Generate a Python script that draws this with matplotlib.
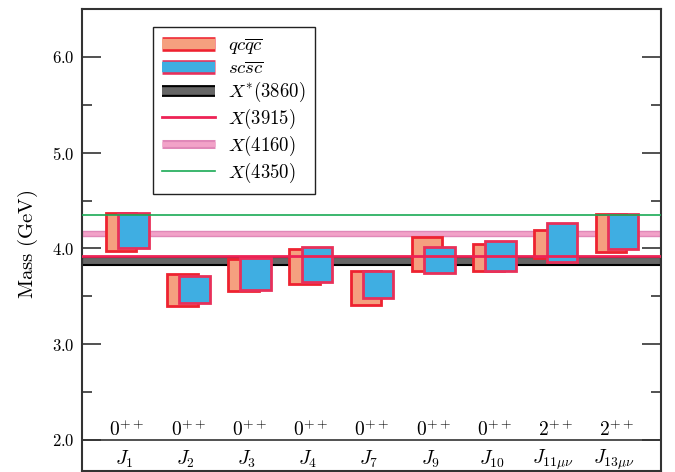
import matplotlib
matplotlib.use("Agg")
import matplotlib.pyplot as plt
import matplotlib.patheffects as pe
from matplotlib.lines import Line2D

plt.rcParams['mathtext.fontset'] = 'cm'
plt.rcParams['font.family'] = 'serif'
plt.rcParams['font.serif'] = ['cmr10', 'DejaVu Serif']
plt.rcParams['axes.formatter.use_mathtext'] = True

# currents, quantum numbers
currents = [r'$J_1$', r'$J_2$', r'$J_3$', r'$J_4$', r'$J_7$', r'$J_9$',
            r'$J_{10}$', r'$J_{11\mu\nu}$', r'$J_{13\mu\nu}$']
jpc = [r'$0^{++}$'] * 7 + [r'$2^{++}$'] * 2

# mass windows (GeV): lower / upper edges
qc_low = [3.97, 3.40, 3.55, 3.63, 3.41, 3.76, 3.76, 3.90, 3.96]
qc_high = [4.37, 3.73, 3.89, 3.99, 3.76, 4.12, 4.05, 4.19, 4.36]
sc_low = [4.00, 3.43, 3.57, 3.65, 3.48, 3.74, 3.76, 3.86, 3.99]
sc_high = [4.37, 3.71, 3.90, 4.01, 3.76, 4.01, 4.08, 4.26, 4.36]

# experimental states
x3860_band = (3.827, 3.910)
x3915 = 3.918
x4160_band = (4.127, 4.185)
x4350 = 4.350

yticks = [2.0, 3.0, 4.0, 5.0, 6.0]
yminor = [2.5, 3.5, 4.5, 5.5]

c_orange = '#F5A07F'
c_orange_edge = '#EE2230'
c_blue = '#3FAEE2'
c_blue_edge = '#E8305A'
c_gray = '#666666'
c_red = '#EE2255'
c_pink = '#F2A2C8'
c_pink_edge = '#E088B8'
c_green = '#1AAA55'

fig = plt.figure(figsize=(6.75, 4.72), dpi=100)
ax = fig.add_axes([0.1215, 0.003, 0.8575, 0.978])

pos = list(range(1, len(currents) + 1))

ax.axhspan(*x3860_band, facecolor=c_gray, edgecolor='black', lw=1.5, zorder=1)
ax.axhspan(*x4160_band, facecolor=c_pink, edgecolor=c_pink_edge, lw=1, zorder=1)

ax.bar(pos, [h - l for l, h in zip(qc_low, qc_high)], bottom=qc_low, width=0.5,
       color=c_orange, edgecolor=c_orange_edge, lw=2, zorder=2)
ax.bar([p + 0.2 for p in pos], [h - l for l, h in zip(sc_low, sc_high)],
       bottom=sc_low, width=0.5, color=c_blue, edgecolor=c_blue_edge, lw=2, zorder=3)

ax.axhline(x3915, color=c_red, lw=2, zorder=4)
ax.axhline(x4350, color=c_green, lw=1.2, zorder=4)
ax.axhline(2.0, color='#333333', lw=1.2, zorder=4)

for p, j, q in zip(pos, currents, jpc):
    ax.text(p + 0.1, 2.04, q, ha='center', va='baseline', fontsize=14)
    ax.text(p + 0.05, 1.795, j, ha='center', va='center', fontsize=14)

ax.set_xlim(0.363, 9.816)
ax.set_ylim(1.68, 6.5)
ax.set_xticks([])
ax.set_yticks(yticks)
ax.set_yticklabels([r'$%.1f$' % t for t in yticks])
ax.set_yticks(yminor, minor=True)
ax.tick_params(axis='y', which='both', direction='in', right=True,
               labelsize=12, colors='#333333', labelcolor='black')
ax.tick_params(axis='y', which='major', length=14, width=1.2, pad=5)
ax.tick_params(axis='y', which='minor', length=7, width=1.2)
for s in ax.spines.values():
    s.set_linewidth(1.5)
    s.set_color('#333333')
ax.set_ylabel(r'$\mathrm{Mass\ (GeV)}$', fontsize=15)
ax.yaxis.set_label_coords(-0.072, 0.49)


def box_handle(fc, ec, h):
    return Line2D([0], [0], color=fc, lw=h, solid_capstyle='butt',
                  path_effects=[pe.Stroke(linewidth=h + 3, foreground=ec), pe.Normal()])


handles = [
    box_handle(c_orange, c_orange_edge, 7.5),
    box_handle(c_blue, c_blue_edge, 7.5),
    box_handle(c_gray, 'black', 5.5),
    Line2D([0], [0], color=c_red, lw=2),
    box_handle(c_pink, c_pink_edge, 3.5),
    Line2D([0], [0], color=c_green, lw=1.2),
]
labels = [r'$qc\overline{q}\overline{c}$', r'$sc\overline{s}\overline{c}$',
          r'$X^{*}(3860)$', r'$X(3915)$', r'$X(4160)$', r'$X(4350)$']
leg = ax.legend(handles, labels, loc='upper left', bbox_to_anchor=(0.1226, 0.961),
                borderaxespad=0, fontsize=13.5, handlelength=2.8, handletextpad=0.7,
                labelspacing=0.14, fancybox=False, edgecolor='#222222', framealpha=1,
                borderpad=0.5)
leg.get_frame().set_linewidth(1.0)

fig.savefig('out.png', dpi=100)
